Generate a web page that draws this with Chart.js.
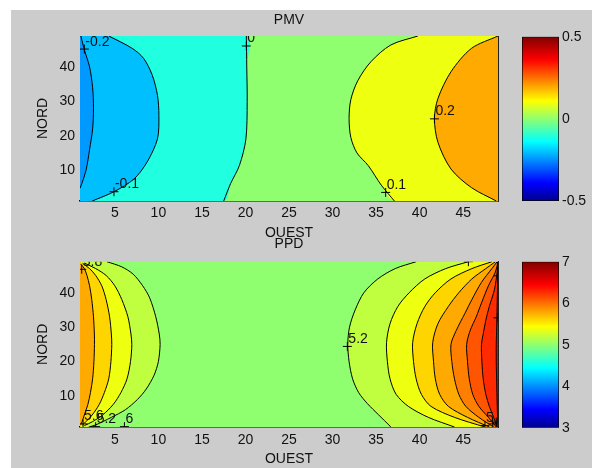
<!DOCTYPE html>
<html>
<head>
<meta charset="utf-8">
<script src="https://cdn.jsdelivr.net/npm/chart.js@4.4.0/dist/chart.umd.min.js"></script>
<style>
  body { margin: 0; background: #fff; }
  #figure { position: relative; width: 592px; height: 468px; overflow: hidden; }
  #fond { position: absolute; left: 11px; top: 10px; width: 581px; height: 458px; background: #cccccc; }
  canvas { position: absolute; }
</style>
</head>
<body>
<div id="figure">
  <div id="fond"></div>
  <canvas id="pmv" width="592" height="240" style="left:0;top:0"></canvas>
  <canvas id="pmvBarre" width="92" height="240" style="left:500px;top:0"></canvas>
  <canvas id="ppd" width="592" height="234" style="left:0;top:234px"></canvas>
  <canvas id="ppdBarre" width="92" height="234" style="left:500px;top:234px"></canvas>
</div>
<script>
// graduations
const xTicks = [5, 10, 15, 20, 25, 30, 35, 40, 45];
const yTicks = [10, 20, 30, 40];
const pmvBarreTicks = [-0.5, 0, 0.5];
const ppdBarreTicks = [3, 4, 5, 6, 7];

// palette jet (position, couleur)
const jetStops = [[0, '#00008f'], [0.11, '#0000ff'], [0.36, '#00ffff'], [0.61, '#ffff00'], [0.86, '#ff0000'], [1, '#800000']];

// lignes de contour PMV, points [OUEST, NORD]
const pmvM02 = [[1.1, 49], [1.5, 45], [2.1, 40], [2.45, 34], [2.55, 28], [2.45, 22], [2.1, 16], [1.7, 10], [1.2, 6], [1, 4.7]];
const pmvM01 = [[4.3, 49], [7.0, 45.4], [8.3, 42.5], [9.3, 37.6], [9.9, 31.7], [10.06, 25.9], [9.9, 19.1], [8.7, 12.3], [7.2, 7.4], [4.9, 3.7], [2.4, 1]];
const pmv0 = [[20.1, 49], [20.15, 40], [20.2, 30], [20.05, 19], [19.3, 11.3], [18.3, 6.1], [17.5, 1]];
const pmv01 = [[39.8, 49], [36.7, 46.4], [34.4, 41.5], [32.9, 36], [32.1, 30.5], [31.9, 25], [32.1, 19.5], [32.8, 15], [34.1, 11.3], [35.6, 5.6], [37.1, 1]];
const pmv02 = [[49, 49], [45.95, 45.4], [43.6, 38.6], [42.1, 30.8], [41.7, 24.9], [42.1, 18.1], [43.6, 10.3], [45.95, 4.9], [48.8, 1]];

// lignes de contour PPD, côté ouest
const ppdG52 = [[4.1, 49], [5.8, 47.5], [7.1, 45.4], [8.2, 42], [9.0, 38.5], [9.7, 33], [10.1, 28], [10.2, 25], [10.0, 20], [9.5, 16], [8.6, 12], [7.6, 9], [6.2, 6], [4.6, 3.8], [2.8, 1.6], [2.0, 1]];
const ppdG54 = [[1.5, 48.6], [2.8, 47], [4.0, 45], [5.0, 42], [5.8, 38], [6.5, 33], [6.85, 28], [6.95, 25], [6.8, 20], [6.4, 15], [5.7, 11], [4.8, 7.5], [3.6, 4.5], [2.4, 2.5], [1.5, 1.4]];
const ppdG56 = [[1.3, 48.5], [2.1, 47], [2.8, 45], [3.5, 42], [4.0, 38], [4.4, 33], [4.6, 28], [4.65, 25], [4.55, 20], [4.3, 15], [3.8, 11], [3.2, 7.5], [2.4, 4.5], [1.7, 2.6], [1.3, 1.6]];
const ppdG58 = [[1.1, 48.3], [1.5, 47], [1.8, 45], [2.1, 42], [2.35, 38], [2.55, 33], [2.65, 28], [2.66, 25], [2.6, 20], [2.45, 15], [2.2, 11], [1.9, 7.5], [1.5, 4.5], [1.25, 2.6], [1.1, 1.7]];
// côté est
const ppdD52 = [[39.6, 49], [37.2, 47], [35.2, 44], [33.6, 40], [32.6, 35], [31.95, 30], [31.75, 25], [31.9, 20], [32.3, 15], [33.0, 11], [34.0, 7.8], [35.3, 4.5], [36.7, 1]];
const ppdD54 = [[45.6, 49], [43.0, 47], [40.6, 44], [38.8, 40], [37.5, 36], [36.6, 31], [36.2, 25.5], [36.3, 20], [36.6, 15], [37.3, 10.5], [38.7, 7], [41.0, 3.8], [44.0, 1]];
const ppdD56 = [[48.3, 49], [46.0, 47], [43.6, 44], [41.8, 40], [40.6, 36], [39.7, 31], [39.2, 25.5], [39.3, 20], [39.6, 15], [40.2, 10.5], [41.3, 7], [44.0, 3.8], [47.5, 1]];
const ppdD58 = [[48.7, 49], [47.6, 47], [46.0, 44], [44.5, 40], [43.3, 36], [42.1, 31], [41.5, 25.5], [41.6, 20], [41.8, 15], [42.3, 10.5], [43.3, 7], [45.5, 3.8], [48.0, 1]];
const ppdD60 = [[48.9, 49], [48.3, 47], [47.1, 43], [46.0, 38], [45.2, 34], [44.2, 29], [43.6, 25], [43.7, 20], [44.0, 15], [44.5, 10.5], [45.3, 7], [46.8, 3.8], [48.5, 1]];
const ppdD62 = [[49, 49], [48.7, 46], [47.9, 42], [47.1, 37], [46.5, 33], [45.8, 29], [45.4, 25], [45.5, 20], [45.7, 15], [46.1, 10.5], [46.8, 7], [47.9, 3.8], [48.8, 1]];
const ppdD64 = [[49, 49], [48.9, 46], [48.6, 41], [48.0, 36], [47.6, 32], [47.3, 28], [47.1, 25], [47.15, 20], [47.3, 15], [47.6, 10.5], [48.0, 7], [48.5, 3.8], [48.9, 1]];
const ppdD66 = [[49, 49], [49, 46], [48.95, 42], [48.9, 36], [48.85, 30], [48.8, 25], [48.8, 20], [48.85, 14], [48.9, 8], [48.95, 4], [49, 1]];

// étiquettes (position du +) et marques seules
const pmvEtiquettes = [[1.5, 45.2, '-0.2'], [4.9, 3.7, '-0.1'], [20.1, 46.1, '0'], [36.1, 3.5, '0.1'], [41.7, 24.9, '0.2']];
const pmvMarques = [];
const ppdEtiquettes = [[31.7, 24.4, '5.2'], [1.2, 46.8, '5.8'], [1.35, 1.9, '5.6'], [2.8, 1.1, '5.2'], [6.1, 1.1, '6'], [47.5, 1.4, '5.4']];
const ppdMarques = [[45.6, 49], [49, 44.9], [49, 32.7], [48.4, 1.9], [48.8, 2.4]];

const police = { family: '"Liberation Sans", Arial, sans-serif', size: 14, lineHeight: 1 };
const couleurTexte = '#111';
const lissage = 0.3;
Chart.defaults.font.family = police.family;

const pt = a => a.map(([x, y]) => ({ x, y }));
const ouest = ligne => pt([[1, 49], ...ligne, [1, 1]]);
const est = ligne => pt([[49, 49], ...ligne, [49, 1]]);
const cadre = pt([[1, 1], [1, 49], [49, 49], [49, 1]]);

const etiquettesPlugin = {
  id: 'etiquettes',
  afterDatasetsDraw(chart, args, opts) {
    const { ctx, chartArea: a, scales: { x, y } } = chart;
    ctx.save();
    ctx.beginPath();
    ctx.rect(a.left, a.top, a.right - a.left, a.bottom - a.top);
    ctx.clip();
    ctx.font = '14px ' + police.family;
    ctx.fillStyle = couleurTexte;
    ctx.textAlign = 'left';
    ctx.textBaseline = 'alphabetic';
    opts.liste.forEach(([vx, vy, texte]) => {
      ctx.fillText(texte, x.getPixelForValue(vx) + 1, y.getPixelForValue(vy) - 3.5);
    });
    ctx.restore();
  }
};

function traceContour(id, titre, g, regions, lignes, etiquettes, marques) {
  const datasets = [];
  let ordre = 100;
  regions.forEach(([points, couleur], i) => {
    datasets.push({ data: points, showLine: true, fill: 'shape', backgroundColor: couleur,
      borderColor: 'rgba(0,0,0,0)', borderWidth: 0, pointRadius: 0, tension: i === 0 ? 0 : lissage, order: ordre-- });
  });
  lignes.forEach(l => {
    datasets.push({ data: pt(l), showLine: true, fill: false, borderColor: '#000', borderWidth: 1,
      pointRadius: 0, tension: lissage, order: 2 });
  });
  datasets.push({ data: pt([...etiquettes.map(e => [e[0], e[1]]), ...marques]), showLine: false,
    pointStyle: 'cross', pointRadius: 4.5, borderColor: '#000', borderWidth: 1, order: 1 });

  return new Chart(document.getElementById(id), {
    type: 'scatter',
    data: { datasets },
    plugins: [etiquettesPlugin],
    options: {
      responsive: false, devicePixelRatio: 1, animation: false,
      layout: { padding: { left: 0, right: 94, top: 0, bottom: 0 } },
      plugins: {
        legend: { display: false }, tooltip: { enabled: false },
        title: { display: true, text: titre, fullSize: false, color: couleurTexte,
          padding: { top: g.titreHaut, bottom: g.titreBas }, font: { ...police, weight: 'normal' } },
        etiquettes: { liste: etiquettes }
      },
      scales: {
        x: {
          type: 'linear', min: 1, max: 49,
          afterBuildTicks: s => { s.ticks = xTicks.map(value => ({ value })); },
          afterFit: s => { s.height = g.hauteurX; },
          grid: { display: false, drawTicks: false },
          border: { display: true, color: '#000', width: 1.5 },
          ticks: { padding: g.padTicksX, color: couleurTexte, font: police, maxRotation: 0 },
          title: { display: true, text: 'OUEST', color: couleurTexte, font: police, padding: { top: 0, bottom: g.padOuest } }
        },
        y: {
          type: 'linear', min: 1, max: 49,
          afterBuildTicks: s => { s.ticks = yTicks.map(value => ({ value })); },
          afterFit: s => { s.width = 80; },
          grid: { display: false, drawTicks: false },
          border: { display: false },
          ticks: { padding: 5, color: couleurTexte, font: police },
          title: { display: true, text: 'NORD', color: couleurTexte, font: police, padding: { top: 36.3, bottom: 0 } }
        },
        y2: {
          type: 'linear', position: 'right', min: 1, max: 49,
          afterFit: s => { s.width = 0; },
          grid: { display: false, drawTicks: false },
          border: { display: true, color: '#222', width: 1 },
          ticks: { display: false }
        }
      }
    }
  });
}

function degrade(chart) {
  const a = chart.chartArea;
  if (!a) return '#80ff80';
  const d = chart.ctx.createLinearGradient(0, a.bottom, 0, a.top);
  jetStops.forEach(([p, c]) => d.addColorStop(p, c));
  return d;
}

function barreCouleur(id, min, max, graduations, padHaut, padBas) {
  return new Chart(document.getElementById(id), {
    type: 'bar',
    data: { labels: [''], datasets: [{ data: [[min, max]], backgroundColor: ctx => degrade(ctx.chart),
      borderColor: '#000', borderWidth: 1, borderSkipped: false, barPercentage: 1, categoryPercentage: 1 }] },
    options: {
      responsive: false, devicePixelRatio: 1, animation: false,
      layout: { padding: { left: 22, right: 0, top: padHaut, bottom: padBas } },
      plugins: { legend: { display: false }, tooltip: { enabled: false } },
      scales: {
        x: { display: false },
        y: {
          position: 'right', min, max,
          afterBuildTicks: s => { s.ticks = graduations.map(value => ({ value })); },
          afterFit: s => { s.width = 33; },
          grid: { display: false, drawTicks: false },
          border: { display: false },
          ticks: { padding: 3, color: couleurTexte, font: police, callback: v => String(v) }
        }
      }
    }
  });
}

traceContour('pmv', 'PMV',
  { titreHaut: 13, titreBas: 9, hauteurX: 39, padTicksX: 5.3, padOuest: 0 },
  [[cadre, '#8fff70'], [ouest(pmv0), '#20ffdf'], [ouest(pmvM01), '#00bfff'], [ouest(pmvM02), '#0099ff'],
   [est(pmv01), '#efff10'], [est(pmv02), '#ffaa00']],
  [pmvM02, pmvM01, pmv0, pmv01, pmv02], pmvEtiquettes, pmvMarques);

traceContour('ppd', 'PPD',
  { titreHaut: 3.5, titreBas: 10.2, hauteurX: 41, padTicksX: 6, padOuest: 2 },
  [[cadre, '#8fff70'],
   [ouest(ppdG52), '#bfff40'], [ouest(ppdG54), '#efff10'], [ouest(ppdG56), '#ffd500'], [ouest(ppdG58), '#ffaa00'],
   [est(ppdD52), '#bfff40'], [est(ppdD54), '#efff10'], [est(ppdD56), '#ffd500'], [est(ppdD58), '#ffaa00'],
   [est(ppdD60), '#ff8000'], [est(ppdD62), '#ff5500'], [est(ppdD64), '#ff2a00'], [est(ppdD66), '#f00000']],
  [ppdG52, ppdG54, ppdG56, ppdG58, ppdD52, ppdD54, ppdD56, ppdD58, ppdD60, ppdD62, ppdD64, ppdD66],
  ppdEtiquettes, ppdMarques);

barreCouleur('pmvBarre', -0.5, 0.5, pmvBarreTicks, 36.7, 39);
barreCouleur('ppdBarre', 3, 7, ppdBarreTicks, 27.7, 40.3);
</script>
</body>
</html>
